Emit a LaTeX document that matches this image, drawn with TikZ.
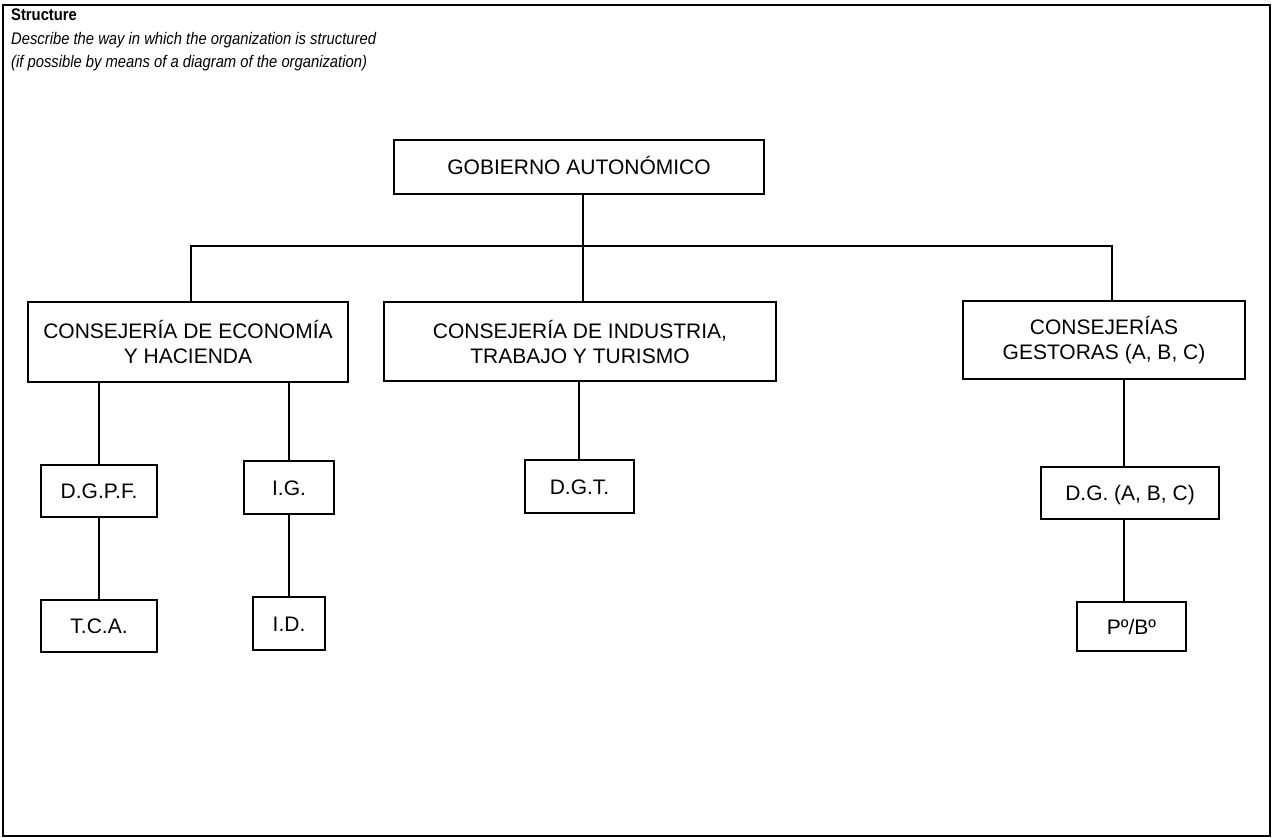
\documentclass[tikz,border=0pt]{standalone}
\usepackage{fontspec}
\setmainfont{Liberation Sans}
\newfontfamily\hdrfont[FakeStretch=0.88]{Liberation Sans}
\begin{document}
\begin{tikzpicture}[x=1pt,y=-1pt,
  box/.style={draw, rectangle, line width=1.4pt, inner sep=0pt, align=center, font=\fontsize{21}{25}\selectfont},
  single/.style={text height=15pt, text depth=0pt},
  conn/.style={line width=1.2pt},
  hdr/.style={anchor=base west, inner sep=0pt, font=\hdrfont\fontsize{16.8}{18}\selectfont\itshape}]
\useasboundingbox (0,0) rectangle (1278,838);
\draw[line width=2pt] (3,5) rectangle (1270,836);
\node[hdr, font=\hdrfont\fontsize{16.8}{18}\selectfont\bfseries] (t1) at (11,20) {Structure};
\node[hdr] (t2) at (11,44) {Describe the way in which the organization is structured};
\node[hdr] (t3) at (11,67) {(if possible by means of a diagram of the organization)};

\node[box, single, minimum width=370pt, minimum height=54pt] (gob) at (579,167) {GOBIERNO AUTONÓMICO};
\node[box, minimum width=320pt, minimum height=80pt] (econ) at (188,342) {CONSEJERÍA DE ECONOMÍA\\Y HACIENDA};
\node[box, minimum width=392pt, minimum height=79pt] (ind) at (580,341.5) {CONSEJERÍA DE INDUSTRIA,\\TRABAJO Y TURISMO};
\node[box, minimum width=282pt, minimum height=78pt] (gest) at (1104,340) {CONSEJERÍAS\\GESTORAS (A, B, C)};
\node[box, single, minimum width=116pt, minimum height=52pt] (dgpf) at (99,491) {D.G.P.F.};
\node[box, single, minimum width=116pt, minimum height=52pt] (tca) at (99,626) {T.C.A.};
\node[box, single, minimum width=90pt, minimum height=53pt] (ig) at (289,487.5) {I.G.};
\node[box, single, minimum width=72pt, minimum height=53pt] (id) at (289,623.5) {I.D.};
\node[box, single, minimum width=109pt, minimum height=53pt] (dgt) at (579.5,486.5) {D.G.T.};
\node[box, single, minimum width=178pt, minimum height=52pt] (dg) at (1130,493) {D.G. (A, B, C)};
\node[box, single, minimum width=109pt, minimum height=49pt] (p) at (1131.5,626.5) {Pº/Bº};

\coordinate (busL) at (191,246);
\coordinate (busM) at (583,246);
\coordinate (busR) at (1112,246);
\coordinate (gx) at (1124,0);
\coordinate (dx) at (579,0);

\draw[conn] (gob.south -| busM) -- (busM);
\draw[conn] (econ.north -| busL) -- (busL) -- (busR) -- (gest.north -| busR);
\draw[conn] (busM) -- (ind.north -| busM);
\draw[conn] (econ.south -| dgpf.north) -- (dgpf.north);
\draw[conn] (econ.south -| ig.north) -- (ig.north);
\draw[conn] (dgpf.south) -- (tca.north);
\draw[conn] (ig.south) -- (id.north);
\draw[conn] (ind.south -| dx) -- (dgt.north -| dx);
\draw[conn] (gest.south -| gx) -- (dg.north -| gx);
\draw[conn] (dg.south -| gx) -- (p.north -| gx);
\end{tikzpicture}
\end{document}
